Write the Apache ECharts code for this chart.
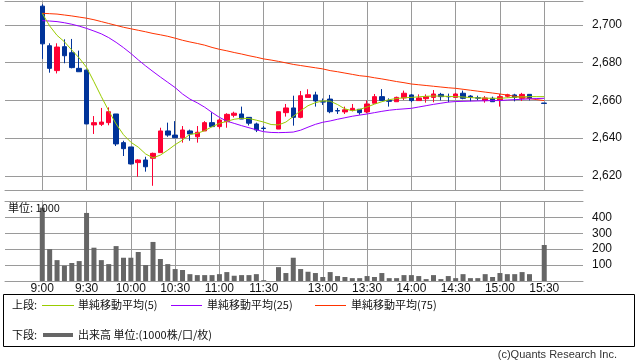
<!DOCTYPE html>
<html><head><meta charset="utf-8">
<script src="https://cdn.jsdelivr.net/npm/echarts@6/dist/echarts.min.js"></script>
<style>html,body{margin:0;padding:0;background:#fff}#c{width:638px;height:362px}</style>
</head><body><div id="c"></div>
<script>
const slots = ['9:00','9:05','9:10','9:15','9:20','9:25','9:30','9:35','9:40','9:45','9:50','9:55','10:00','10:05','10:10','10:15','10:20','10:25','10:30','10:35','10:40','10:45','10:50','10:55','11:00','11:05','11:10','11:15','11:20','11:25','11:30','','12:30','12:35','12:40','12:45','12:50','12:55','13:00','13:05','13:10','13:15','13:20','13:25','13:30','13:35','13:40','13:45','13:50','13:55','14:00','14:05','14:10','14:15','14:20','14:25','14:30','14:35','14:40','14:45','14:50','14:55','15:00','15:05','15:10','15:15','15:20','15:25','15:30'];
const tickLabels = ['9:00','9:30','10:00','10:30','11:00','11:30','13:00','13:30','14:00','14:30','15:00','15:30'];
const priceTicks = [2620,2640,2660,2680,2700];
const volTicks = [100,200,300,400];

const open = [2710,2689,2675.8,2688.5,2685.3,2677,2676.1,2647,2647.3,2648.2,2652.8,2637.6,2635.3,2627,2628.4,2629.3,2632.3,2643.8,2641.6,2640.2,2643.8,2640.7,2643.8,2648.2,2646.1,2648.7,2652.1,2652.8,2651,2647.5,2645.3,null,2644.8,2653.5,2656,2651,2661.6,2662.9,2659.4,2660.7,2654.6,2653.9,2654.8,2655.3,2653.9,2658.5,2662,2660,2659.3,2661.3,2662.9,2659.9,2660.9,2661.6,2663.2,2662.1,2661.6,2663.8,2662.3,2661.4,2659.9,2661.1,2660.2,2662.2,2662.9,2661.1,2663.2,null,2658.6];
const close = [2690,2677,2688.3,2683.7,2677.4,2675.2,2647.5,2648.2,2648.5,2654,2636.9,2634.4,2626.3,2628.4,2624.8,2631.9,2643.8,2641.6,2640.2,2644.3,2642.2,2643.1,2648.2,2646.1,2649.6,2652.6,2653.2,2650.1,2647.9,2644.3,2645.1,null,2654,2656,2651,2662.5,2663,2659.7,2659.1,2654,2654.4,2655,2655.8,2653.5,2658.1,2662,2659.9,2659.5,2661.6,2663.8,2659.9,2661.3,2662,2663.4,2662,2661.9,2663.4,2661.1,2661.6,2661.2,2661.3,2659.3,2662,2663,2661.6,2663.2,2661.1,null,2658.4];
const low = [2682,2674.7,2674.3,2679.7,2677,2675.2,2647.5,2642.2,2646.4,2646.8,2635.8,2630.5,2626,2619.5,2622.2,2614.7,2632.3,2640.7,2640.2,2637.6,2638.6,2637.6,2643.8,2646.1,2645,2645.5,2651,2650.1,2646.7,2643.2,2643.9,null,2644.8,2651.4,2646.6,2650.5,2661.6,2656.7,2657.6,2653.2,2652.8,2652.8,2654.2,2652.4,2653.2,2658.5,2659.9,2656.7,2659.3,2660.2,2659,2659.9,2658.8,2659,2660,2659,2661.6,2660.6,2659.5,2660,2658.8,2659.3,2656.7,2661.5,2659.5,2659.7,2660,null,2658.4];
const high = [2711,2690.3,2690.3,2692.4,2692.6,2686.4,2676.1,2651.7,2656,2656.3,2652.8,2638.6,2635.3,2628.8,2630.1,2632.3,2645.5,2648.2,2649,2646.4,2644.5,2646.4,2649,2653.7,2650.4,2653.2,2654,2656.7,2651,2648.2,2646.4,null,2654,2658.1,2662.5,2665,2665.9,2664.6,2661,2662.9,2656,2656.7,2658.1,2655.3,2660,2663.4,2666,2661.1,2662,2665.2,2663.4,2663.2,2663.2,2665.5,2664,2663.6,2664,2665.2,2662.8,2662.5,2662.3,2662,2663.4,2663.5,2663.5,2664,2663.2,null,2658.6];
const volume = [460,200,131,96,113,125,427,209,131,106,219,146,146,182,100,245,138,106,75,69,43,37,37,37,43,56,33,37,37,43,5,null,87,50,146,75,58,50,25,56,31,25,18,18,31,25,50,18,18,37,37,31,12,37,12,31,18,43,18,18,43,25,50,43,43,56,43,null,226];
const ma5 = [2706.2,2699.5,2694.5,2691.1,2686.7,2682.5,2677.5,2669.9,2662.0,2654.5,2647.5,2641.8,2637.8,2635.2,2631.6,2629.5,2631.0,2633.6,2636.5,2639.0,2642.0,2642.5,2644.0,2646.0,2647.8,2648.9,2650.0,2650.5,2650.4,2649.5,2648.5,2647.2,2647.0,2648.5,2651.5,2654.5,2657.2,2658.8,2659.7,2659.6,2657.8,2655.5,2654.5,2655.2,2656.5,2658.0,2659.3,2660.4,2661.0,2661.4,2661.6,2661.9,2662.2,2662.3,2662.3,2662.1,2662.0,2661.8,2661.5,2661.3,2661.2,2661.1,2661.1,2661.4,2661.7,2661.9,2662.0,2662.0,2662.0];
const ma25 = [2702.3,2702.1,2701.8,2701.2,2700.4,2699.4,2698.2,2696.8,2695.3,2693.3,2690.8,2688.0,2684.9,2681.5,2678.3,2675.3,2672.4,2669.6,2666.8,2663.4,2660.7,2658.7,2656.4,2653.6,2651.0,2649.0,2647.8,2646.6,2645.5,2644.4,2643.4,2643.0,2642.9,2643.0,2643.2,2644.2,2645.8,2647.3,2648.4,2649.1,2650.0,2650.8,2651.6,2652.2,2652.8,2653.5,2654.2,2654.8,2655.2,2655.5,2655.8,2656.5,2657.2,2657.9,2658.5,2659.1,2659.4,2659.5,2659.6,2659.7,2659.8,2659.9,2659.9,2660.2,2660.4,2660.6,2660.8,2661.0,2661.1];
const ma75 = [2706.2,2706.0,2705.8,2705.3,2704.8,2704.2,2703.6,2702.8,2701.8,2700.8,2699.8,2698.8,2698.0,2697.2,2696.4,2695.5,2694.8,2694.0,2693.0,2691.9,2691.0,2690.2,2689.3,2688.1,2687.1,2686.3,2685.4,2684.6,2683.7,2682.9,2682.0,2681.4,2680.7,2679.9,2679.1,2678.5,2677.9,2677.3,2676.7,2675.8,2675.2,2674.5,2673.8,2673.1,2672.7,2672.0,2671.4,2670.7,2670.0,2669.4,2668.7,2668.3,2667.9,2667.5,2667.1,2666.7,2666.4,2665.9,2665.4,2664.9,2664.4,2663.9,2663.4,2662.8,2662.2,2661.6,2661.0,2660.4,2659.9];

const tickIdx = tickLabels.map(t => slots.indexOf(t));
const candleData = [];
slots.forEach((s, i) => { if (open[i] != null) candleData.push([i, open[i], close[i], low[i], high[i]]); });
const volData = [];
slots.forEach((s, i) => { if (volume[i] != null) volData.push([i, volume[i]]); });
const pair = arr => arr.map((v, i) => [i, v]);

const GRID = '#9a9a9a';
const XMIN = -5.05, XMAX = 73.25;
const fmtComma = v => String(v).replace(/\B(?=(\d{3})+(?!\d))/g, ',');
const labelFont = { color: '#111', fontSize: 12, fontFamily: 'Liberation Sans' };
const LF = '11px "Noto Sans CJK JP"';

const chart = echarts.init(document.getElementById('c'), null, { renderer: 'canvas' });
chart.setOption({
  animation: false,
  backgroundColor: '#fff',
  grid: [
    { left: 5, right: 55, top: 1, height: 189, outerBoundsMode: 'none' },
    { left: 5, right: 55, top: 201, height: 80, outerBoundsMode: 'none' }
  ],
  xAxis: [
    { type: 'value', gridIndex: 0, min: XMIN, max: XMAX,
      axisLine: { show: true, onZero: false, lineStyle: { color: GRID } },
      axisTick: { show: false, customValues: tickIdx }, axisLabel: { show: false, customValues: tickIdx },
      splitLine: { show: true, lineStyle: { color: GRID, width: 1 } } },
    { type: 'value', gridIndex: 1, min: XMIN, max: XMAX,
      axisLine: { show: true, onZero: false, lineStyle: { color: GRID } },
      axisTick: { show: false, customValues: tickIdx },
      axisLabel: Object.assign({ show: true, margin: 2, customValues: tickIdx,
        formatter: v => tickLabels[tickIdx.indexOf(Math.round(v))] || '' }, labelFont),
      splitLine: { show: true, lineStyle: { color: GRID, width: 1 } } },
    { type: 'value', gridIndex: 0, position: 'top', min: XMIN, max: XMAX,
      axisLine: { show: true, onZero: false, lineStyle: { color: GRID } },
      axisTick: { show: false }, axisLabel: { show: false }, splitLine: { show: false } },
    { type: 'value', gridIndex: 1, position: 'top', min: XMIN, max: XMAX,
      axisLine: { show: true, onZero: false, lineStyle: { color: GRID } },
      axisTick: { show: false }, axisLabel: { show: false }, splitLine: { show: false } }
  ],
  yAxis: [
    { type: 'value', gridIndex: 0, position: 'right', min: 2612.47, max: 2712.73,
      axisLine: { show: true, lineStyle: { color: GRID } },
      axisTick: { show: true, length: 5, customValues: priceTicks, lineStyle: { color: GRID } },
      axisLabel: Object.assign({ margin: 9, customValues: priceTicks, formatter: fmtComma }, labelFont),
      splitLine: { show: true, lineStyle: { color: GRID, width: 1 } } },
    { type: 'value', gridIndex: 1, position: 'right', min: 0, max: 502,
      axisLine: { show: true, lineStyle: { color: GRID } },
      axisTick: { show: true, length: 5, customValues: volTicks, lineStyle: { color: GRID } },
      axisLabel: Object.assign({ margin: 9, customValues: volTicks }, labelFont),
      splitLine: { show: true, lineStyle: { color: GRID, width: 1 } } }
  ],
  series: [
    { type: 'candlestick', xAxisIndex: 0, yAxisIndex: 0, data: candleData,
      encode: { x: 0, y: [1, 2, 3, 4] }, barWidth: 5,
      itemStyle: { color: '#ff0033', color0: '#003399', borderColor: '#ff0033', borderColor0: '#003399', borderColorDoji: '#003399', borderWidth: 1 } },
    { type: 'line', xAxisIndex: 0, yAxisIndex: 0, data: pair(ma75), symbol: 'none', lineStyle: { color: '#ff3300', width: 1 } },
    { type: 'line', xAxisIndex: 0, yAxisIndex: 0, data: pair(ma25), symbol: 'none', lineStyle: { color: '#9900ff', width: 1 } },
    { type: 'line', xAxisIndex: 0, yAxisIndex: 0, data: pair(ma5), symbol: 'none', lineStyle: { color: '#99cc00', width: 1 } },
    { type: 'bar', xAxisIndex: 1, yAxisIndex: 1, data: volData, barWidth: 5, itemStyle: { color: '#666666' } }
  ],
  graphic: [
    { type: 'text', z: 100, style: { text: '単位: 1000', x: 8, y: 208, fill: '#111', font: '11px "Noto Sans CJK JP"', verticalAlign: 'middle', textVerticalAlign: 'middle' } },
    { type: 'rect', shape: { x: 3.5, y: 294.5, width: 631, height: 52 }, style: { fill: 'none', stroke: '#000', lineWidth: 1 } },
    { type: 'text', style: { text: '上段:', x: 12, y: 305, fill: '#111', font: LF, verticalAlign: 'middle', textVerticalAlign: 'middle' } },
    { type: 'line', shape: { x1: 42, y1: 305.5, x2: 74, y2: 305.5 }, style: { stroke: '#99cc00', lineWidth: 1 } },
    { type: 'text', style: { text: '単純移動平均(5)', x: 78, y: 305, fill: '#111', font: LF, verticalAlign: 'middle', textVerticalAlign: 'middle' } },
    { type: 'line', shape: { x1: 171, y1: 305.5, x2: 202, y2: 305.5 }, style: { stroke: '#9900ff', lineWidth: 1 } },
    { type: 'text', style: { text: '単純移動平均(25)', x: 207, y: 305, fill: '#111', font: LF, verticalAlign: 'middle', textVerticalAlign: 'middle' } },
    { type: 'line', shape: { x1: 315, y1: 305.5, x2: 346, y2: 305.5 }, style: { stroke: '#ff3300', lineWidth: 1 } },
    { type: 'text', style: { text: '単純移動平均(75)', x: 351, y: 305, fill: '#111', font: LF, verticalAlign: 'middle', textVerticalAlign: 'middle' } },
    { type: 'text', style: { text: '下段:', x: 12, y: 335, fill: '#111', font: LF, verticalAlign: 'middle', textVerticalAlign: 'middle' } },
    { type: 'line', shape: { x1: 43, y1: 335, x2: 73, y2: 335 }, style: { stroke: '#666666', lineWidth: 4 } },
    { type: 'text', style: { text: '出来高 単位:(1000株/口/枚)', x: 78, y: 335, fill: '#111', font: LF, verticalAlign: 'middle', textVerticalAlign: 'middle' } },
    { type: 'text', style: { text: '(c)Quants Research Inc.', x: 617, y: 355, fill: '#333', font: '11px "Liberation Sans"', align: 'right', textAlign: 'right', verticalAlign: 'middle', textVerticalAlign: 'middle' } }
  ]
});
</script></body></html>
